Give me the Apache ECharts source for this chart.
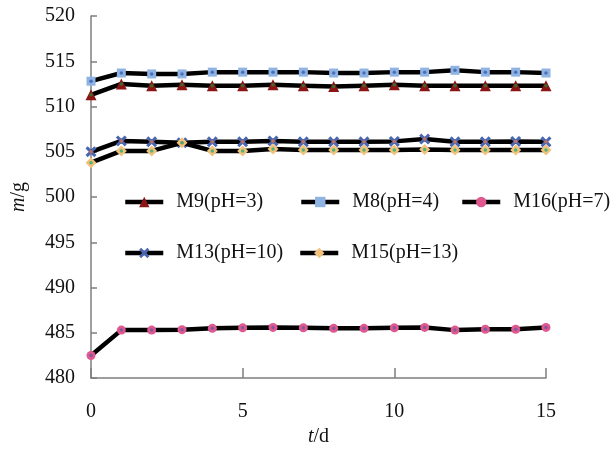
<!DOCTYPE html>
<html><head><meta charset="utf-8">
<script src="https://cdn.jsdelivr.net/npm/echarts@6/dist/echarts.min.js"></script>
<style>html,body{margin:0;padding:0;background:#fff}#c{width:613px;height:452px}</style>
</head><body><div id="c"></div>
<script>
const days = [0,1,2,3,4,5,6,7,8,9,10,11,12,13,14,15];
const seriesNames = ['M9(pH=3)','M8(pH=4)','M16(pH=7)','M13(pH=10)','M15(pH=13)'];
const m9  = [511.3,512.5,512.3,512.4,512.3,512.3,512.4,512.3,512.2,512.3,512.4,512.3,512.3,512.3,512.3,512.3];
const m8  = [512.8,513.7,513.6,513.6,513.8,513.8,513.8,513.8,513.7,513.7,513.8,513.8,514.0,513.8,513.8,513.7];
const m16 = [482.5,485.3,485.3,485.35,485.5,485.55,485.6,485.55,485.5,485.5,485.55,485.6,485.3,485.4,485.4,485.6];
const m13 = [505.0,506.2,506.1,506.0,506.1,506.1,506.2,506.1,506.1,506.1,506.15,506.4,506.1,506.1,506.15,506.1];
const m15 = [503.8,505.1,505.1,506.0,505.1,505.1,505.3,505.2,505.2,505.2,505.2,505.25,505.2,505.2,505.2,505.2];
const yTicks = [480,485,490,495,500,505,510,515,520];
const xTicks = [0,5,10,15];

const pair = arr => days.map((d,i)=>[d,arr[i]]);
const FONT = 'Liberation Serif';
const FS = 20;
const xPath = 'path://M0,2 L2,0 L5,3 L8,0 L10,2 L7,5 L10,8 L8,10 L5,7 L2,10 L0,8 L3,5 Z';

const styles = [
  {data:m9,  symbol:'triangle', size:11, color:'#8B1515', dot:'#2E7D32'},
  {data:m8,  symbol:'rect',     size:9,  color:'#8FB3E3', dot:'#3A5FB0'},
  {data:m16, symbol:'circle',   size:9,  color:'#E0588E', dot:'#6A5AA8'},
  {data:m13, symbol:xPath,      size:11, color:'#4A66B0', dot:'#E07050'},
  {data:m15, symbol:'diamond',  size:11, color:'#F2C27A', dot:'#22B07A'}
];

const series = [];
styles.forEach((s,i)=>{
  series.push({
    name: seriesNames[i], type:'line', data: pair(s.data),
    symbol: s.symbol, symbolSize: s.size, showAllSymbol:true,
    lineStyle:{color:'#000', width:4.5},
    itemStyle:{color:s.color, borderWidth:0},
    z: 2+i, animation:false
  });
  series.push({
    name: seriesNames[i]+'_dot', type:'scatter', data: pair(s.data),
    symbol: 'circle', symbolSize: 3.5,
    itemStyle:{color:s.dot}, z: 10, animation:false, silent:true
  });
});

const legendPos = [
  {left:123, top:192},
  {left:299, top:192},
  {left:460, top:192},
  {left:123, top:243},
  {left:298, top:243}
];
const legends = seriesNames.map((n,i)=>({
  data:[n], left:legendPos[i].left, top:legendPos[i].top,
  itemWidth:38, itemHeight:13, itemGap:0,
  lineStyle:{width:4.5, color:'#000'},
  textStyle:{fontFamily:FONT, fontSize:FS, color:'#111', padding:[0,0,0,8]},
  padding:0, selectedMode:false
}));

const chart = echarts.init(document.getElementById('c'), null, {renderer:'canvas'});
chart.setOption({
  animation:false,
  backgroundColor:'#fff',
  grid:{left:91, right:67, top:16, bottom:64, containLabel:false},
  legend: legends,
  xAxis:{
    type:'value', min:0, max:15, interval:5,
    name:'{i|t}/d', nameLocation:'middle', nameGap:44,
    nameTextStyle:{fontFamily:FONT, fontSize:FS, color:'#111', rich:{i:{fontStyle:'italic', fontFamily:FONT, fontSize:FS}}},
    axisLine:{lineStyle:{color:'#7f7f7f', width:1.5}},
    axisTick:{inside:true, length:10, lineStyle:{color:'#7f7f7f', width:1.5}},
    axisLabel:{margin:24, fontFamily:FONT, fontSize:FS, color:'#111', customValues: xTicks},
    splitLine:{show:false}
  },
  yAxis:{
    type:'value', min:480, max:520, interval:5,
    name:'{i|m}/g', nameLocation:'middle', nameGap:62, nameRotate:90,
    nameTextStyle:{fontFamily:FONT, fontSize:FS, color:'#111', rich:{i:{fontStyle:'italic', fontFamily:FONT, fontSize:FS}}},
    axisLine:{lineStyle:{color:'#7f7f7f', width:1.5}},
    axisTick:{inside:true, length:6, lineStyle:{color:'#7f7f7f', width:1.5}},
    axisLabel:{margin:16, fontFamily:FONT, fontSize:FS, color:'#111', customValues: yTicks},
    splitLine:{show:false}
  },
  series: series
});
</script></body></html>
